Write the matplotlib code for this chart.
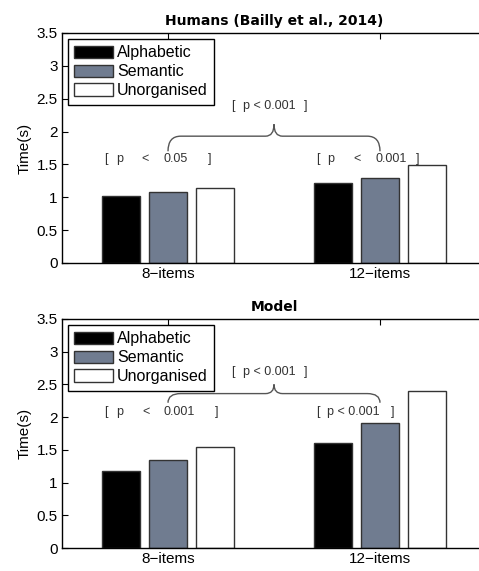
import matplotlib
matplotlib.use("Agg")
import matplotlib.pyplot as plt
from matplotlib.path import Path
from matplotlib.patches import PathPatch
import numpy as np

plt.rcParams['font.family'] = ['Liberation Sans', 'DejaVu Sans']

groups = ["8\u2212items", "12\u2212items"]
series = ["Alphabetic", "Semantic", "Unorganised"]
colors = ["#000000", "#707c90", "#ffffff"]
humans = [[1.02, 1.22], [1.08, 1.29], [1.14, 1.485]]
model = [[1.18, 1.61], [1.34, 1.91], [1.54, 2.40]]
titles = ["Humans (Bailly et al., 2014)", "Model"]
yticks = [0, 0.5, 1, 1.5, 2, 2.5, 3, 3.5]

# annotation pieces: (text, x-left, y)
ann_h = [
    [("[", 0.70), ("p", 0.756), ("<", 0.874), ("0.05", 0.981), ("]", 1.189)],
    [("[", 1.70), ("p", 1.752), ("<", 1.873), ("0.001", 1.978), ("]", 2.168)],
    [("[", 1.299), ("p < 0.001", 1.354), ("]", 1.642)],
]
ann_h_y = [1.58, 1.58, 2.39]
brace_h = (1.70, 1.93, 2.11)

ann_m = [
    [("[", 0.70), ("p", 0.756), ("<", 0.877), ("0.001", 0.981), ("]", 1.222)],
    [("[", 1.70), ("p < 0.001", 1.752), ("]", 2.053)],
    [("[", 1.299), ("p < 0.001", 1.354), ("]", 1.642)],
]
ann_m_y = [2.08, 2.08, 2.69]
brace_m = (2.22, 2.36, 2.50)

fig = plt.figure(figsize=(4.79, 5.71), dpi=100)
positions = [[62/479, 1-263/571, 424/479, 230/571],
             [62/479, 1-548/571, 424/479, 229/571]]

x = np.arange(1, len(groups)+1)
step = 0.2222
bw = 0.178


def brace(ax, x0, x1, yend, yline, ypeak):
    xm = (x0 + x1) / 2
    dx = 0.06
    dx2 = 0.04
    verts = [(x0, yend), (x0, yline), (x0+dx, yline),
             (xm-dx2, yline), (xm, yline), (xm, ypeak),
             (xm, yline), (xm+dx2, yline),
             (x1-dx, yline), (x1, yline), (x1, yend)]
    codes = [Path.MOVETO, Path.CURVE3, Path.CURVE3,
             Path.LINETO, Path.CURVE3, Path.CURVE3,
             Path.CURVE3, Path.CURVE3,
             Path.LINETO, Path.CURVE3, Path.CURVE3]
    ax.add_patch(PathPatch(Path(verts, codes), fill=False, edgecolor="#555555", lw=1.0))


for k, (data, title, anns, anny, br) in enumerate([(humans, titles[0], ann_h, ann_h_y, brace_h),
                                                    (model, titles[1], ann_m, ann_m_y, brace_m)]):
    ax = fig.add_axes(positions[k])
    for i, (vals, c, lab) in enumerate(zip(data, colors, series)):
        ax.bar(x + (i-1)*step, vals, bw, color=c, edgecolor="#333333", lw=1.0, label=lab, zorder=2)
    ax.set_xlim(0.5, 2.5)
    ax.set_ylim(0, 3.5)
    ax.set_yticks(yticks)
    ax.set_yticklabels(["0", "0.5", "1", "1.5", "2", "2.5", "3", "3.5"])
    ax.set_xticks(x)
    ax.set_xticklabels(groups)
    ax.tick_params(direction='in', length=4, width=0.8, labelsize=11, top=True, right=False, pad=3)
    for s in ax.spines.values():
        s.set_linewidth(1.0)
    ax.spines['right'].set_visible(False)
    ax.set_ylabel("Time(s)", fontsize=11, labelpad=4)
    ax.set_title(title, fontsize=10, fontweight='bold', family='DejaVu Sans', pad=6)
    leg = ax.legend(loc='upper left', fontsize=11.5, frameon=True, fancybox=False,
                    edgecolor='black', framealpha=1, handlelength=2.4, handleheight=0.8,
                    labelspacing=0.24, handletextpad=0.25, borderpad=0.4, borderaxespad=0.38)
    leg.get_frame().set_linewidth(1.0)
    for pieces, yy in zip(anns, anny):
        for t, xx in pieces:
            ax.text(xx, yy, t, fontsize=9, ha='left', va='center', color='#333333')
    brace(ax, 1.0, 2.0, *br)

fig.savefig("out.png", dpi=100)
